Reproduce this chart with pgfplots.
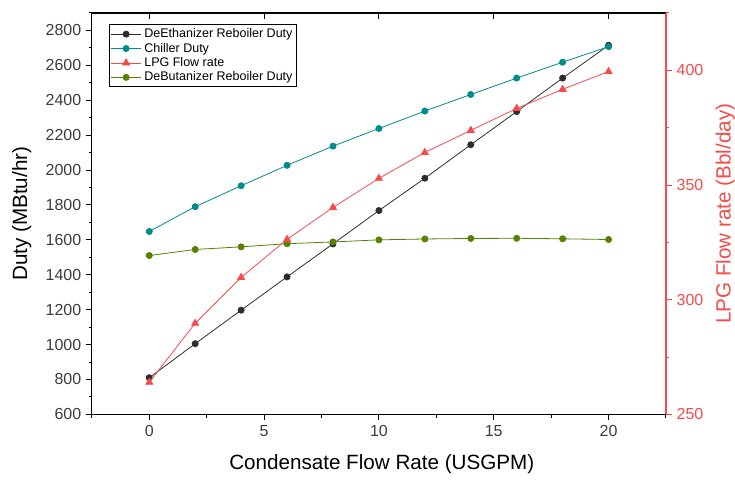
\documentclass[border=0pt]{standalone}
\usepackage{fontspec}
\setmainfont{Liberation Sans}
\usepackage{pgfplots}
\pgfplotsset{compat=1.18}
\definecolor{cBlack}{RGB}{45,45,45}
\definecolor{cTeal}{RGB}{0,140,140}
\definecolor{cRed}{RGB}{245,75,75}
\definecolor{cGreen}{RGB}{85,130,0}
\definecolor{cTick}{RGB}{60,60,60}
\begin{document}
\begin{tikzpicture}
\pgfplotsset{every axis/.append style={scale only axis, width=431.25pt, height=301.5pt,
  xmin=-2.5, xmax=22.5, font=\fontsize{12}{14}\selectfont,
  /pgf/number format/assume math mode=true,
  /pgf/number format/1000 sep={},
  major tick length=4.5pt, minor tick length=2.5pt,
  every tick/.style={line width=0.75pt},
  axis line style={-, line width=0.8pt},
  label style={font=\fontsize{15.5}{18}\selectfont, inner sep=0pt},
  tick label style={text=cTick}}}
% main left axis
\begin{axis}[name=ax,
  axis x line*=bottom, axis y line*=left,
  tick align=outside,
  ymin=600, ymax=2900,
  ytick={600,800,...,2800}, minor ytick={700,900,...,2900},
  xtick={0,5,...,20}, minor xtick={-2.5,2.5,...,22.5},
  xlabel={Condensate Flow Rate (USGPM)}, ylabel={Duty (MBtu/hr)},
  xlabel style={at={(axis description cs:0.505,-0.124)}, anchor=center},
  ylabel style={at={(axis description cs:-0.122,0.5)}, anchor=center},
  legend style={at={(axis description cs:0.0296,0.972)}, anchor=north west,
    draw=black, line width=0.6pt, font=\fontsize{9.4}{11}\selectfont,
    inner sep=1pt, row sep=-1.5pt, cells={anchor=west}},
  legend image code/.code={\draw[mark repeat=2,mark phase=2] plot coordinates {(0cm,0cm)(0.4cm,0cm)(0.8cm,0cm)};},
]
\addplot[cBlack, line width=0.6pt, mark=*, mark size=2.3pt] coordinates {
(0,810)(2,1005)(4,1197)(6,1388)(8,1577)(10,1768)(12,1953)(14,2145)(16,2335)(18,2527)(20,2715)};
\addlegendentry{DeEthanizer Reboiler Duty}
\addplot[cTeal, line width=0.6pt, mark=*, mark size=2.3pt] coordinates {
(0,1648)(2,1790)(4,1910)(6,2027)(8,2137)(10,2238)(12,2338)(14,2433)(16,2527)(18,2618)(20,2707)};
\addlegendentry{Chiller Duty}
\addlegendimage{cRed, line width=0.6pt, mark=triangle*, mark size=3pt}
\addlegendentry{LPG Flow rate}
\addplot[cGreen, line width=0.6pt, mark=*, mark size=2.3pt] coordinates {
(0,1510)(2,1545)(4,1560)(6,1578)(8,1588)(10,1600)(12,1605)(14,1608)(16,1609)(18,1606)(20,1602)};
\addlegendentry{DeButanizer Reboiler Duty}
\end{axis}
% top ticks (inward)
\begin{axis}[
  axis x line*=top, axis y line=none,
  tick align=inside,
  ymin=0, ymax=1,
  xtick={0,5,...,20}, xticklabels={},
]
\end{axis}
% right axis
\begin{axis}[
  axis x line=none, axis y line*=right,
  tick align=outside,
  y axis line style={cRed},
  ytick style={cRed},
  yticklabel style={text=cRed},
  ymin=250, ymax=425,
  ytick={250,300,...,400}, minor ytick={275,325,375,425},
  ylabel={LPG Flow rate (Bbl/day)},
  ylabel style={text=cRed, at={(axis description cs:1.1035,0.5)}, anchor=center, rotate=0},
]
\addplot[cRed, line width=0.6pt, mark=triangle*, mark size=3pt] coordinates {
(0,264)(2,289.7)(4,309.7)(6,326.3)(8,340.2)(10,352.9)(12,364.2)(14,373.8)(16,383.4)(18,391.7)(20,399.5)};
\end{axis}
\path (ax.south west) ++(-69pt,-48.75pt) rectangle ++(551.25pt,360pt);
\end{tikzpicture}
\end{document}
